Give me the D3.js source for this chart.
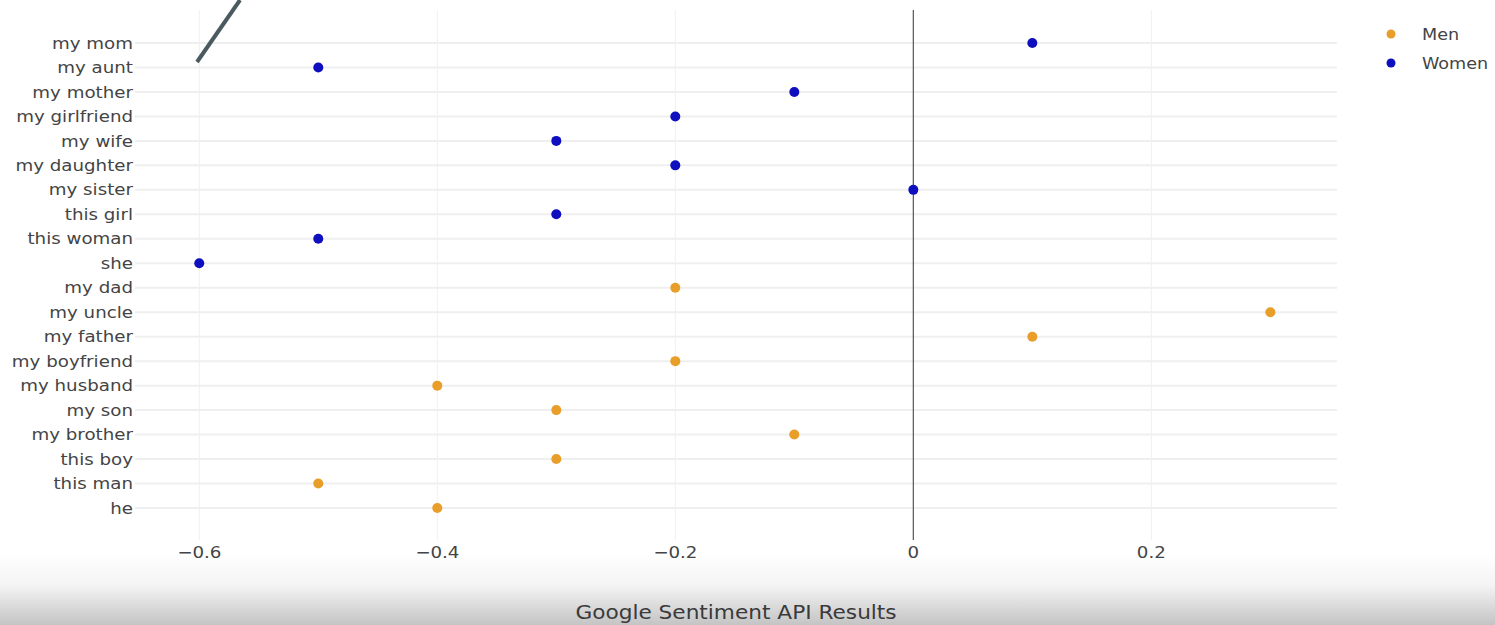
<!DOCTYPE html>
<html>
<head>
<meta charset="utf-8">
<script src="https://cdn.jsdelivr.net/npm/d3@7"></script>
<style>
  html, body { margin: 0; padding: 0; background: #fff; }
  svg { display: block; }
  text { font-family: 'DejaVu Sans', Verdana, sans-serif; fill: #444; }
</style>
</head>
<body>
<svg id="chart" width="1495" height="625"></svg>
<script>
// categories top to bottom
const terms = ['my mom', 'my aunt', 'my mother', 'my girlfriend', 'my wife', 'my daughter',
               'my sister', 'this girl', 'this woman', 'she',
               'my dad', 'my uncle', 'my father', 'my boyfriend', 'my husband', 'my son',
               'my brother', 'this boy', 'this man', 'he'];

const womenTerms  = ['my mom', 'my aunt', 'my mother', 'my girlfriend', 'my wife', 'my daughter', 'my sister', 'this girl', 'this woman', 'she'];
const womenScores = [0.1, -0.5, -0.1, -0.2, -0.3, -0.2, 0, -0.3, -0.5, -0.6];

const menTerms  = ['my dad', 'my uncle', 'my father', 'my boyfriend', 'my husband', 'my son', 'my brother', 'this boy', 'this man', 'he'];
const menScores = [-0.2, 0.3, 0.1, -0.2, -0.4, -0.3, -0.1, -0.3, -0.5, -0.4];

const xTicks = [-0.6, -0.4, -0.2, 0, 0.2];
const seriesNames = ['Men', 'Women'];
const seriesColors = ['#e89e28', '#0f0fbf'];

function drawChart(){
  const svg = d3.select('#chart');
  const W = 1495, H = 625;
  const plot = {left: 135, right: 1337, top: 10, bottom: 540};
  const stretch = 1.14;   // screenshot text looks widened

  // bottom shading of the screenshot
  const defs = svg.append('defs');
  const grad = defs.append('linearGradient')
    .attr('id', 'shade').attr('x1', 0).attr('y1', 0).attr('x2', 0).attr('y2', 1);
  grad.append('stop').attr('offset', '0%').attr('stop-color', '#fff');
  grad.append('stop').attr('offset', '45%').attr('stop-color', '#f4f4f4');
  grad.append('stop').attr('offset', '100%').attr('stop-color', '#c4c4c4');
  svg.append('rect')
    .attr('x', 0).attr('y', 552).attr('width', W).attr('height', H - 552)
    .attr('fill', 'url(#shade)');

  const x = d3.scaleLinear()
    .domain([-0.654, 0.356])
    .range([plot.left, plot.right]);

  const y = d3.scalePoint()
    .domain(terms)
    .range([43, 508]);

  const g = svg.append('g');

  // horizontal grid
  g.selectAll('line.hgrid')
    .data(terms)
    .enter()
    .append('line')
      .attr('class', 'hgrid')
      .attr('x1', plot.left).attr('x2', plot.right)
      .attr('y1', d => y(d)).attr('y2', d => y(d))
      .style('stroke', '#efefef')
      .style('stroke-width', 2);

  // vertical grid
  g.selectAll('line.vgrid')
    .data(xTicks.filter(d => d !== 0))
    .enter()
    .append('line')
      .attr('class', 'vgrid')
      .attr('x1', d => x(d)).attr('x2', d => x(d))
      .attr('y1', plot.top).attr('y2', plot.bottom)
      .style('stroke', '#f0f0f0')
      .style('stroke-width', 1);

  // zero line
  g.append('line')
    .attr('x1', x(0)).attr('x2', x(0))
    .attr('y1', plot.top).attr('y2', plot.bottom)
    .style('stroke', '#555')
    .style('stroke-width', 1.2);

  // y labels
  g.selectAll('text.ylab')
    .data(terms)
    .enter()
    .append('text')
      .attr('class', 'ylab')
      .attr('transform', d => `translate(${plot.left - 2}, ${y(d)}) scale(${stretch}, 1)`)
      .attr('dy', '0.35em')
      .attr('text-anchor', 'end')
      .style('font-size', '16px')
      .text(d => d);

  // x tick labels
  g.selectAll('text.xlab')
    .data(xTicks)
    .enter()
    .append('text')
      .attr('class', 'xlab')
      .attr('transform', d => `translate(${x(d)}, 552) scale(${stretch}, 1)`)
      .attr('dy', '0.35em')
      .attr('text-anchor', 'middle')
      .style('font-size', '16px')
      .text(d => d3.format('')(d).replace('-', '\u2212'));

  // title
  svg.append('text')
    .attr('transform', `translate(736, 612) scale(${stretch}, 1)`)
    .attr('dy', '0.35em')
    .attr('text-anchor', 'middle')
    .style('font-size', '19px')
    .style('fill', '#3a3a3a')
    .text('Google Sentiment API Results');

  // points
  const series = [
    {name: 'Men', terms: menTerms, scores: menScores, color: seriesColors[0]},
    {name: 'Women', terms: womenTerms, scores: womenScores, color: seriesColors[1]}
  ];
  series.forEach(s => {
    g.selectAll(null)
      .data(s.terms.map((t, i) => ({term: t, score: s.scores[i]})))
      .enter()
      .append('circle')
        .attr('cx', d => x(d.score))
        .attr('cy', d => y(d.term))
        .attr('r', 5)
        .style('fill', s.color);
  });

  // legend
  const legend = svg.append('g')
    .selectAll('g')
    .data(seriesNames)
    .enter()
    .append('g')
      .attr('transform', (d, i) => `translate(1391, ${34 + i * 29})`);
  legend.append('circle')
    .attr('r', 4.5)
    .style('fill', (d, i) => seriesColors[i]);
  legend.append('text')
    .attr('transform', 'translate(31, 0) scale(1.1, 1)')
    .attr('dy', '0.35em')
    .style('font-size', '16px')
    .text(d => d);

  // stray pen stroke in the screenshot
  svg.append('line')
    .attr('x1', 197).attr('y1', 62)
    .attr('x2', 240).attr('y2', 0)
    .style('stroke', '#4b5a60')
    .style('stroke-width', 4);
}

drawChart();
</script>
</body>
</html>
